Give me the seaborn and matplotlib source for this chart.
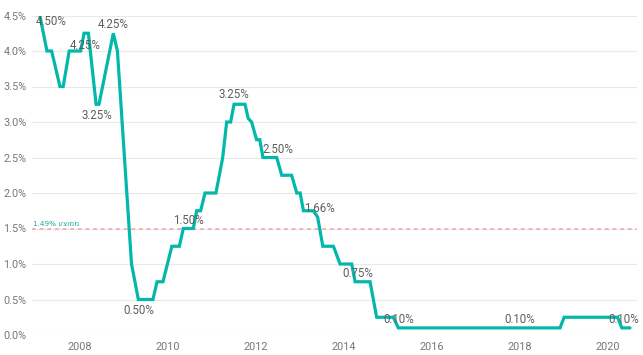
import numpy as np
import pandas as pd
import matplotlib
matplotlib.use('Agg')
import matplotlib.pyplot as plt
import matplotlib.dates as mdates
from matplotlib.ticker import FuncFormatter
import seaborn as sns

# Data (vertices of the rate line)
dates = ['2007-02-01', '2007-04-01', '2007-05-10', '2007-07-18', '2007-08-14', '2007-10-03',
         '2008-01-06', '2008-02-03', '2008-03-10', '2008-05-13', '2008-06-06', '2008-10-03',
         '2008-11-06', '2009-03-03', '2009-04-29', '2009-08-28', '2009-10-01', '2009-11-19',
         '2010-02-01', '2010-04-04', '2010-05-07', '2010-07-29', '2010-08-26', '2010-09-28',
         '2010-11-03', '2011-02-02', '2011-03-30', '2011-05-02', '2011-06-04', '2011-07-02',
         '2011-10-01', '2011-10-28', '2011-11-25', '2012-01-05', '2012-02-01', '2012-02-27',
         '2012-06-20', '2012-08-01', '2012-10-22', '2012-12-04', '2013-01-01', '2013-01-28',
         '2013-04-20', '2013-05-26', '2013-07-08', '2013-10-04', '2013-11-28', '2014-03-05',
         '2014-04-02', '2014-08-04', '2014-09-28', '2015-02-13', '2015-03-27', '2018-11-28',
         '2019-01-01', '2020-03-20', '2020-04-24', '2020-07-01']
rates = [4.50, 4.00, 4.00, 3.50, 3.50, 4.00,
         4.00, 4.25, 4.25, 3.25, 3.25, 4.25,
         4.00, 1.00, 0.50, 0.50, 0.75, 0.75,
         1.25, 1.25, 1.50, 1.50, 1.75, 1.75,
         2.00, 2.00, 2.50, 3.00, 3.00, 3.25,
         3.25, 3.05, 3.00, 2.75, 2.75, 2.50,
         2.50, 2.25, 2.25, 2.00, 2.00, 1.75,
         1.75, 1.66, 1.25, 1.25, 1.00, 1.00,
         0.75, 0.75, 0.25, 0.25, 0.10, 0.10,
         0.25, 0.25, 0.10, 0.10]

# data labels: (date of labelled point, value, text offset in points)
label_dates = ['2007-02-01', '2008-02-15', '2008-05-20', '2008-10-03', '2009-04-29',
               '2010-06-15', '2011-07-02', '2012-02-27', '2013-05-26', '2014-04-02',
               '2015-03-27', '2018-01-01', '2020-05-30']
label_values = [4.50, 4.25, 3.25, 4.25, 0.50, 1.50, 3.25, 2.50, 1.66, 0.75, 0.10, 0.10, 0.10]
label_texts = ['4.50%', '4.25%', '3.25%', '4.25%', '0.50%', '1.50%', '3.25%', '2.50%',
               '1.66%', '0.75%', '0.10%', '0.10%', '0.10%']
label_offsets = [(8, -4), (0, -9), (0, -8), (0, 6), (0, -8), (0, 6), (0, 7), (11, 6),
                 (1, 6), (2, 6), (0, 6), (0, 6), (-2, 6)]

average = 1.49
avg_word = 'ממוצע'

df = pd.DataFrame({'date': pd.to_datetime(dates), 'rate': rates})

sns.set_theme(style='white')
plt.rcParams['font.family'] = ['Roboto', 'DejaVu Sans']

fig = plt.figure(figsize=(6.43, 3.55), dpi=100)
ax = fig.add_axes([32 / 643, 1 - 335 / 355, 605 / 643, 319.5 / 355])

sns.lineplot(data=df, x='date', y='rate', ax=ax, color='#01B8AA', linewidth=2.3,
             solid_joinstyle='miter')

ax.axhline(average, color='#F4A3A0', linestyle=(0, (2.5, 2.5)), linewidth=1.1, zorder=1)
# hebrew is drawn left to right by matplotlib, so reverse the word for display
ax.text(0.002, average + 0.04, f'{average:.2f}% {avg_word[::-1]}', transform=ax.get_yaxis_transform(),
        fontsize=5.2, color='#1AA99C', ha='left', va='bottom', family=['DejaVu Sans'])

for d, v, t, off in zip(label_dates, label_values, label_texts, label_offsets):
    ax.annotate(t, (pd.Timestamp(d), v), xytext=off, textcoords='offset points',
                ha='center', va='center', fontsize=8.3, color='#605E5C')

ax.set_ylim(0, 4.5)
ax.set_xlim(pd.Timestamp('2006-11-28'), pd.Timestamp('2020-08-28'))
ax.set_yticks(np.arange(0, 4.51, 0.5))
ax.yaxis.set_major_formatter(FuncFormatter(lambda v, p: f'{v:.1f}%'))
ax.xaxis.set_major_locator(mdates.YearLocator(2))
ax.xaxis.set_major_formatter(mdates.DateFormatter('%Y'))
ax.set_xlabel('')
ax.set_ylabel('')
ax.grid(axis='y', color='#E9E9E9', linewidth=0.8)
ax.grid(axis='x', visible=False)
for s in ax.spines.values():
    s.set_visible(False)
ax.tick_params(axis='both', length=0, labelsize=7.8, labelcolor='#777777')
ax.tick_params(axis='y', pad=4)
ax.tick_params(axis='x', pad=5)

fig.savefig('out.png', dpi=100)
